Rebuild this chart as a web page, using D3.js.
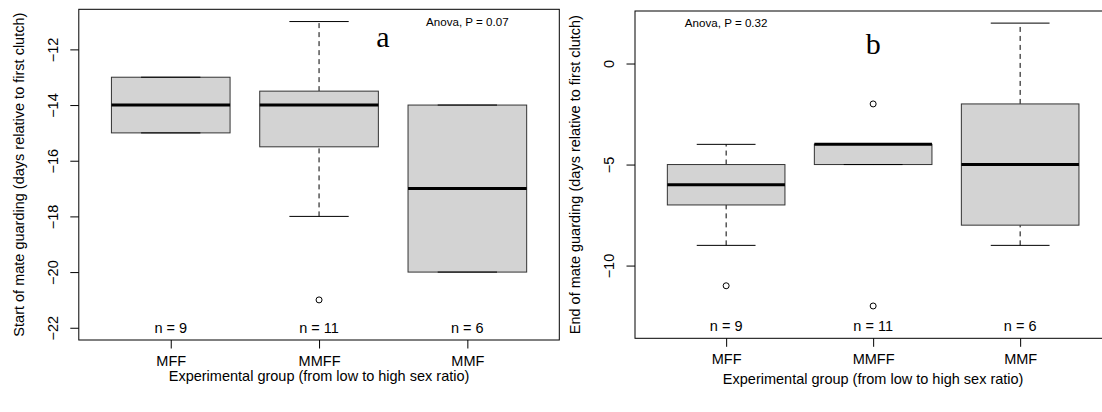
<!DOCTYPE html>
<html>
<head>
<meta charset="utf-8">
<script src="https://cdn.jsdelivr.net/npm/d3@7"></script>
<style>
  html, body { margin: 0; padding: 0; background: #fff; }
  svg { display: block; }
  text { font-family: "Liberation Sans", Arial, sans-serif; fill: #000; }
</style>
</head>
<body>
<svg id="chart" width="1102" height="412"></svg>
<script>
// ---- data ----
const groups = ["MFF", "MMFF", "MMF"];
const nLabels = ["n = 9", "n = 11", "n = 6"];
// [lower whisker, Q1, median, Q3, upper whisker]
const startStats = [[-15, -15, -14, -13, -13], [-18, -15.5, -14, -13.5, -11], [-20, -20, -17, -14, -14]];
const startOutliers = [[], [-21], []];
const endStats = [[-9, -7, -6, -5, -4], [-5, -5, -4, -4, -4], [-9, -8, -5, -2, 2]];
const endOutliers = [[-11], [-12, -2], []];
const startTicks = [-22, -20, -18, -16, -14, -12];
const endTicks = [-10, -5, 0];
const startYLim = [-22, -11];
const endYLim = [-13, 2];
const anovaLabels = ["Anova, P = 0.07", "Anova, P = 0.32"];
const panelLetters = ["a", "b"];
const yTitles = ["Start of mate guarding (days relative to first clutch)", "End of mate guarding (days relative to first clutch)"];
const xTitle = "Experimental group (from low to high sex ratio)";

const svg = d3.select("#chart");
svg.append("rect").attr("width", 1102).attr("height", 412).attr("fill", "#fff");

const FS = 14.5;
const FONT = '"Liberation Sans", Arial, sans-serif';

function ext(lim) { const d = (lim[1] - lim[0]) * 0.04; return [lim[0] - d, lim[1] + d]; }

const panels = [
  { left: 78.8, right: 559.3, top: 9.3, bottom: 340, ylim: startYLim, ticks: startTicks, stats: startStats, outs: startOutliers,
    nY: -22, anova: [3, -11], letter: [2.43, -11.65], yTitle: yTitles[0], anovaText: anovaLabels[0], letterText: panelLetters[0], xTitleY: 380.5 },
  { left: 635, right: 1111.3, top: 11, bottom: 338.3, ylim: endYLim, ticks: endTicks, stats: endStats, outs: endOutliers,
    nY: -13, anova: [1, 2], letter: [2, 0.8], yTitle: yTitles[1], anovaText: anovaLabels[1], letterText: panelLetters[1], xTitleY: 384 }
];

panels.forEach(p => {
  const g = svg.append("g");
  const x = d3.scaleLinear().domain([0.38, 3.62]).range([p.left, p.right]);
  const y = d3.scaleLinear().domain(ext(p.ylim)).range([p.bottom, p.top]);
  const bw = 0.4, sw = 0.2;

  p.stats.forEach((s, i) => {
    const c = i + 1;
    const bg = g.append("g");
    // whiskers
    bg.append("line").attr("x1", x(c)).attr("x2", x(c)).attr("y1", y(s[0])).attr("y2", y(s[1]))
      .attr("stroke", "#000").attr("stroke-dasharray", "5,4");
    bg.append("line").attr("x1", x(c)).attr("x2", x(c)).attr("y1", y(s[3])).attr("y2", y(s[4]))
      .attr("stroke", "#000").attr("stroke-dasharray", "5,4");
    // box
    bg.append("rect").attr("x", x(c - bw)).attr("width", x(c + bw) - x(c - bw))
      .attr("y", y(s[3])).attr("height", Math.max(0.01, y(s[1]) - y(s[3])))
      .attr("fill", "#d3d3d3").attr("stroke", "#333").attr("stroke-width", 1);
    // staples
    [s[0], s[4]].forEach(v => {
      bg.append("line").attr("x1", x(c - sw)).attr("x2", x(c + sw)).attr("y1", y(v)).attr("y2", y(v))
        .attr("stroke", "#000").attr("stroke-width", 1);
    });
    // median
    bg.append("line").attr("x1", x(c - bw)).attr("x2", x(c + bw)).attr("y1", y(s[2])).attr("y2", y(s[2]))
      .attr("stroke", "#000").attr("stroke-width", 3);
    // outliers
    p.outs[i].forEach(v => {
      bg.append("circle").attr("cx", x(c)).attr("cy", y(v)).attr("r", 3)
        .attr("fill", "none").attr("stroke", "#000").attr("stroke-width", 1);
    });
    // n labels
    g.append("text").attr("x", x(c)).attr("y", y(p.nY) + 5).attr("text-anchor", "middle")
      .attr("font-size", FS).text(nLabels[i]);
  });

  // frame
  g.append("rect").attr("x", p.left).attr("y", p.top).attr("width", p.right - p.left).attr("height", p.bottom - p.top)
    .attr("fill", "none").attr("stroke", "#000").attr("stroke-width", 1);

  // y axis
  const ya = d3.axisLeft(y).tickValues(p.ticks).tickSize(8.5).tickPadding(0).tickFormat(d3.format("d"));
  const yg = g.append("g").attr("transform", `translate(${p.left},0)`).call(ya);
  yg.select(".domain").remove();
  yg.selectAll(".tick line").attr("stroke", "#000");
  yg.selectAll(".tick text").attr("font-size", FS).attr("font-family", FONT)
    .attr("text-anchor", "middle").attr("dy", null).attr("x", 0).attr("y", 0)
    .attr("transform", "translate(-21,0) rotate(-90)");

  // x axis
  const xa = d3.axisBottom(x).tickValues([1, 2, 3]).tickSize(8.5).tickPadding(0).tickFormat(d => groups[d - 1]);
  const xg = g.append("g").attr("transform", `translate(0,${p.bottom})`).call(xa);
  xg.select(".domain").remove();
  xg.selectAll(".tick line").attr("stroke", "#000");
  xg.selectAll(".tick text").attr("font-size", FS).attr("font-family", FONT)
    .attr("dy", null).attr("y", 26);

  // y title
  g.append("text").attr("transform", `translate(${p.left - 55},${(p.top + p.bottom) / 2}) rotate(-90)`)
    .attr("text-anchor", "middle").attr("font-size", FS).text(p.yTitle);
  // x title
  g.append("text").attr("x", x(2)).attr("y", p.xTitleY).attr("text-anchor", "middle").attr("font-size", FS).text(xTitle);

  // anova
  g.append("text").attr("x", x(p.anova[0])).attr("y", y(p.anova[1]) + 4.2).attr("text-anchor", "middle")
    .attr("font-size", 11.6).text(p.anovaText);
  // panel letter
  g.append("text").attr("x", x(p.letter[0])).attr("y", y(p.letter[1]) + 7).attr("text-anchor", "middle")
    .attr("font-size", 30).style("font-family", '"Liberation Serif", "Times New Roman", serif').text(p.letterText);
});
</script>
</body>
</html>
